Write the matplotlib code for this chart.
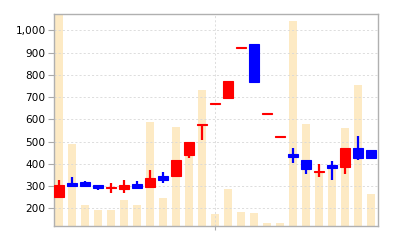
import matplotlib
matplotlib.use("Agg")
import matplotlib.pyplot as plt
import numpy as np
from matplotlib.ticker import FuncFormatter

# daily candles (open, close, high, low) and volume
opens = [252, 312, 316, 307, 290, 286, 307, 297, 346, 345, 439, 573, 671,
         697, 921, 939, 623, 522, 446, 416, 362, 394, 386, 469, 461]
closes = [304, 300, 300, 290, 297, 307, 292, 337, 327, 416, 498, 577, 675,
          774, 925, 767, 627, 526, 431, 376, 368, 382, 469, 428, 428]
highs = [327, 342, 322, 307, 312, 327, 322, 371, 364, 416, 498, 577, 675,
         774, 925, 939, 627, 526, 473, 416, 401, 412, 469, 525, 461]
lows = [252, 294, 300, 282, 270, 270, 292, 297, 315, 342, 424, 506, 671,
        697, 921, 767, 623, 522, 404, 354, 342, 327, 354, 416, 424]
volume = [2300, 820, 210, 160, 160, 260, 210, 1040, 280, 990, 760, 1360, 120,
          370, 140, 130, 30, 30, 2050, 1020, 540, 580, 980, 1410, 320]

UP = "#ff0000"
DOWN = "#0000ff"
VOL = "#fdeac4"
GRID = "#d8d8d8"

fig = plt.figure(figsize=(4, 2.4), dpi=100)
rect = [0.135, 0.058, 0.809, 0.882]

x = np.arange(len(opens))

# volume in the background
ax_v = fig.add_axes(rect)
ax_v.bar(x, volume, width=0.64, color=VOL, zorder=1)
ax_v.set_ylim(0, 2120)
ax_v.set_xlim(-0.4, 24.5)
ax_v.axis("off")

# price candles on top
ax = fig.add_axes(rect, facecolor="none", zorder=2)
for xi, o, c, h, l in zip(x, opens, closes, highs, lows):
    col = UP if c >= o else DOWN
    ax.vlines(xi, l, h, color=col, lw=1.6, zorder=3)
    lo, hi = min(o, c), max(o, c)
    ax.bar(xi, hi - lo, bottom=lo, width=0.76, color=col,
           edgecolor=col, linewidth=0.8, zorder=4)

ax.set_xlim(-0.4, 24.5)
ax.set_ylim(120, 1072)
ax.set_yticks(range(200, 1001, 100))
ax.yaxis.set_major_formatter(FuncFormatter(lambda v, p: f"{int(v):,}"))
ax.set_xticks([12])
ax.set_xticklabels([""])
ax.grid(True, color=GRID, linestyle=(0, (2.5, 2.5)), linewidth=0.6)
ax.set_axisbelow(True)
ax.tick_params(axis="y", labelsize=7.6, length=4, width=0.8,
               color="#aaaaaa", pad=2)
ax.tick_params(axis="x", length=3, width=0.8, color="#aaaaaa")
for s in ax.spines.values():
    s.set_color("#b0b0b0")
    s.set_linewidth(1.0)

fig.savefig("out.png", dpi=100)
